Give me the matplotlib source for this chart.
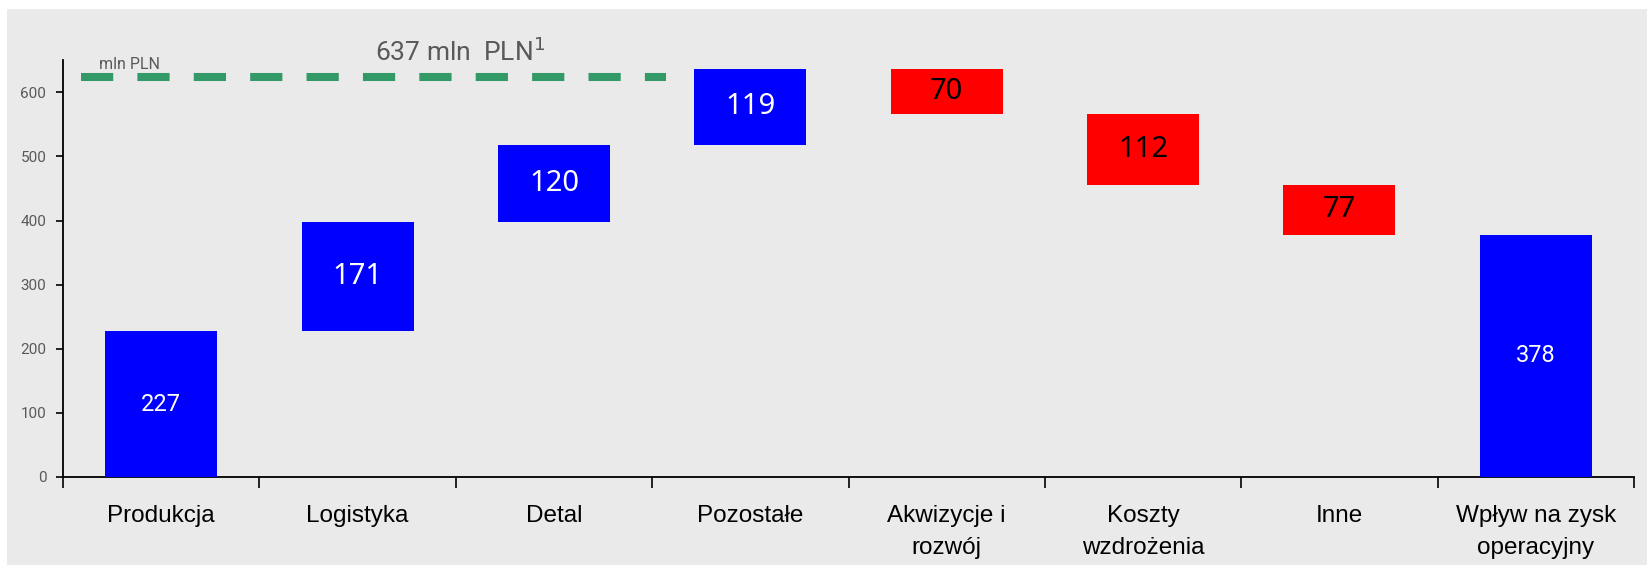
import matplotlib
matplotlib.use("Agg")
import matplotlib.pyplot as plt
from matplotlib import font_manager
from matplotlib.patches import Rectangle
import numpy as np


def pick(*names):
    # first installed family from the list
    for n in names:
        try:
            font_manager.findfont(n, fallback_to_default=False)
            return n
        except Exception:
            pass
    return "DejaVu Sans"


NARROW = pick("Liberation Sans Narrow", "Roboto", "Liberation Sans")
ARIAL = pick("Liberation Sans", "Arial", "DejaVu Sans")
OPEN = pick("Noto Sans", "Open Sans", "DejaVu Sans")
ROBOTO = pick("Roboto", "Liberation Sans Narrow", "DejaVu Sans")

# data
categories = ["Produkcja", "Logistyka", "Detal", "Pozostałe",
              "Akwizycje i\nrozwój", "Koszty\nwzdrożenia", "Inne",
              "Wpływ na zysk\noperacyjny"]
changes = [227, 171, 120, 119, -70, -112, -77]
total = 378
total_label = "637 mln  PLN$^1$"
unit_label = "mln PLN"
line_level = 624  # where the dashed 637 line sits
yticks = [0, 100, 200, 300, 400, 500, 600]

BLUE = "#0000ff"
RED = "#ff0000"
BG = "#eaeaea"
GREEN = "#339966"
GRAY = "#595959"

fig = plt.figure(figsize=(16.47, 5.65), dpi=100)
fig.patches.append(Rectangle((7 / 1647, 0), 1, (565 - 9) / 565,
                             transform=fig.transFigure, facecolor=BG,
                             edgecolor="none", zorder=-10))
ax = fig.add_axes([63 / 1647, 88 / 565, (1634 - 63) / 1647, (477 - 60.3) / 565])
ax.set_facecolor("none")

x = np.arange(len(categories))
width = 0.57

# waterfall steps
starts = np.concatenate([[0], np.cumsum(changes)[:-1]])
for i, (s, c) in enumerate(zip(starts, changes)):
    bottom = s if c > 0 else s + c
    color = BLUE if c > 0 else RED
    ax.bar(x[i], abs(c), bottom=bottom, width=width, color=color, zorder=3)
    mid = bottom + abs(c) / 2
    if i == 0:
        ax.text(x[i], mid, str(c), ha="center", va="center", color="white",
                fontsize=17, family=ROBOTO, zorder=4)
    else:
        ax.text(x[i], mid, str(abs(c)), ha="center", va="center",
                color="white" if c > 0 else "black", fontsize=21,
                family=OPEN, fontweight="semibold", zorder=4)

ax.bar(x[-1], total, width=width, color=BLUE, zorder=3)
ax.text(x[-1], total / 2, str(total), ha="center", va="center", color="white",
        fontsize=17, family=ROBOTO, zorder=4)

# dashed reference line
ax.plot([-0.41, 2.57], [line_level, line_level], color=GREEN, lw=5.8,
        dashes=(4, 3), solid_capstyle="butt", dash_capstyle="butt",
        zorder=2, clip_on=False)
ax.text(-0.315, 636, unit_label, ha="left", va="baseline", fontsize=11.5,
        color=GRAY, family=NARROW)
ax.text(1.52, 649, total_label, ha="center", va="baseline", fontsize=19,
        color=GRAY, family=NARROW, clip_on=False)

ax.set_xlim(-0.5, len(categories) - 0.5)
ax.set_ylim(0, 650)

ax.set_xticks(np.arange(-0.5, len(categories)), minor=False)
ax.set_xticklabels([])
ax.set_xticks(x, minor=True)
ax.set_xticklabels(categories, minor=True, fontsize=17.5, family=ARIAL,
                   color="black")
for lab in ax.get_xticklabels(minor=True):
    lab.set_linespacing(1.6)
ax.tick_params(axis="x", which="major", direction="out", length=8, width=1.2,
               color="black")
ax.tick_params(axis="x", which="minor", length=0, pad=20)

ax.set_yticks(yticks)
ax.set_yticklabels([str(t) for t in yticks], family=NARROW, fontsize=11,
                   color=GRAY)
ax.tick_params(axis="y", direction="out", length=5, width=1.2, pad=7)

for side in ("top", "right"):
    ax.spines[side].set_visible(False)
for side in ("left", "bottom"):
    ax.spines[side].set_linewidth(1.3)
    ax.spines[side].set_color("black")

fig.savefig("out.png", dpi=100)
